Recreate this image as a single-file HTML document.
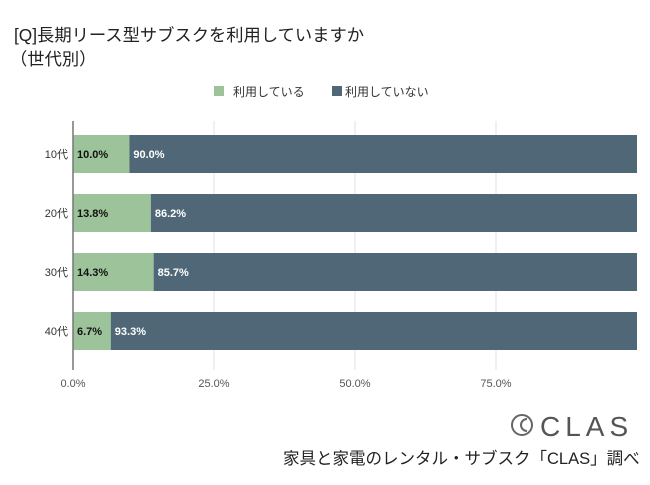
<!DOCTYPE html>
<html><head><meta charset="utf-8"><style>
body{margin:0;background:#fff;width:650px;height:480px;overflow:hidden;font-family:"Liberation Sans","Noto Sans CJK JP",sans-serif;}
</style></head><body>
<svg width="650" height="480" xmlns="http://www.w3.org/2000/svg">
<text x="14" y="41" font-size="17.3" font-family="Liberation Sans, Noto Sans CJK JP, sans-serif" fill="#222">[Q]長期リース型サブスクを利用していますか</text>
<text x="10" y="65" font-size="17.3" font-family="Liberation Sans, Noto Sans CJK JP, sans-serif" fill="#222">（世代別）</text>
<g>
<rect x="214" y="86" width="10" height="10" fill="#9dc39a"/>
<text x="233" y="96" font-size="12" fill="#333" font-family="Liberation Sans, Noto Sans CJK JP, sans-serif">利用している</text>
<rect x="332" y="86" width="10" height="10" fill="#4f6776"/>
<text x="345" y="96" font-size="12" fill="#333" font-family="Liberation Sans, Noto Sans CJK JP, sans-serif">利用していない</text>
</g>
<g id="plot"></g>
<g>
<circle cx="522" cy="425" r="10" fill="none" stroke="#666" stroke-width="2"/>
<path d="M527 419 a6 6 0 1 0 0 12" fill="none" stroke="#666" stroke-width="2"/>
<text x="540" y="436" font-size="28" fill="#555" letter-spacing="5" font-family="Liberation Sans, sans-serif">CLAS</text>
</g>
<text x="283" y="464" font-size="16.5" fill="#222" font-family="Liberation Sans, Noto Sans CJK JP, sans-serif">家具と家電のレンタル・サブスク「CLAS」調べ</text>
</svg>
<script>
const categories=["10代","20代","30代","40代"];
const usingVals=[10.0,13.8,14.3,6.7];
const notUsingVals=[90.0,86.2,85.7,93.3];
const tickVals=[0,25,50,75];
const tickLabels=["0.0%","25.0%","50.0%","75.0%"];
const NS="http://www.w3.org/2000/svg";
const g=document.getElementById('plot');
const x0=73,x1=637,axTop=121,axBot=370;
const xs=v=>x0+(x1-x0)*v/100;
const band=59,firstCenter=154;
const ys=i=>firstCenter+band*i;
const bh=38;
function el(t,a){const e=document.createElementNS(NS,t);for(const k in a)e.setAttribute(k,a[k]);g.appendChild(e);return e;}
tickVals.forEach((v,i)=>{
 if(v>0){const l=el('line',{x1:xs(v),x2:xs(v),y1:axTop,y2:axBot,stroke:'#e2e2e2','stroke-width':1});
 
 }
 const t=el('text',{x:xs(v),y:387,'text-anchor':'middle','font-size':11,fill:'#555'});
 t.textContent=tickLabels[i];
 
 
});
categories.forEach((c,i)=>{
 const cy=ys(i);
 const a=el('rect',{x:xs(0),y:cy-bh/2,width:xs(usingVals[i])-xs(0),height:bh,fill:'#9dc39a'});
 
 
 const b=el('rect',{x:xs(usingVals[i]),y:cy-bh/2,width:xs(usingVals[i]+notUsingVals[i])-xs(usingVals[i]),height:bh,fill:'#4f6776'});
 
 
 const t1=el('text',{x:xs(0)+4,y:cy+4,'font-size':11,'font-weight':'bold',fill:'#111'});
 t1.textContent=usingVals[i].toFixed(1)+'%';
 
 
 const t2=el('text',{x:xs(usingVals[i])+4,y:cy+4,'font-size':11,'font-weight':'bold',fill:'#fff'});
 t2.textContent=notUsingVals[i].toFixed(1)+'%';
 
 
 const cl=el('text',{x:x0-5,y:cy+4,'text-anchor':'end','font-size':11,fill:'#333','font-family':'Liberation Sans, Noto Sans CJK JP, sans-serif'});
 cl.textContent=c;
 
 
});
const ax=el('line',{x1:x0,x2:x0,y1:axTop,y2:axBot,stroke:'#777','stroke-width':1.5});


</script>
</body></html>
